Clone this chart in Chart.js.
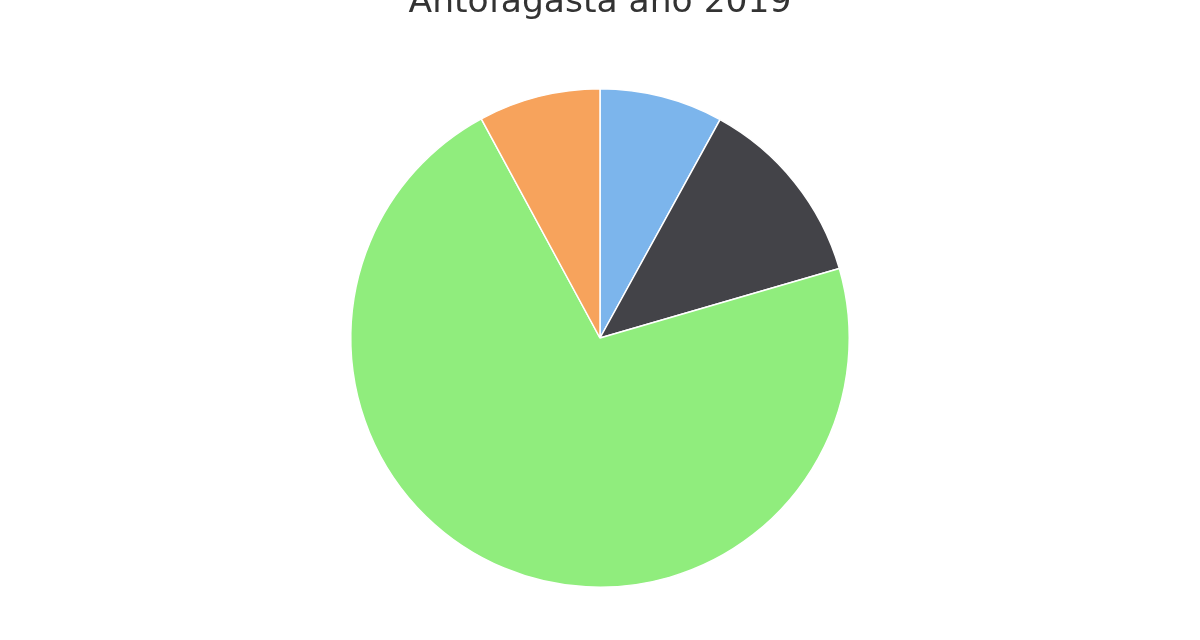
<!DOCTYPE html>
<html>
<head>
<meta charset="utf-8">
<script src="https://cdn.jsdelivr.net/npm/chart.js@4"></script>
<style>
  html, body { margin: 0; padding: 0; background: #fff; }
  #wrap { width: 1200px; height: 640px; }
</style>
</head>
<body>
<div id="wrap"><canvas id="pieChart"></canvas></div>
<script>
// ===== Data =====
const categories = ["Categoría 1", "Categoría 2", "Categoría 3", "Categoría 4"];
const values = [8.0, 12.5, 71.6, 7.9];
const colors = ["#7cb5ec", "#434348", "#90ed7d", "#f7a35c"];

// ===== Chart =====
const ctx = document.getElementById("pieChart").getContext("2d");
new Chart(ctx, {
  type: "pie",
  data: {
    labels: categories,
    datasets: [{
      data: values,
      backgroundColor: colors,
      borderColor: "#ffffff",
      borderWidth: 1.5
    }]
  },
  options: {
    responsive: true,
    maintainAspectRatio: false,
    animation: false,
    layout: { padding: { bottom: 52 } },
    plugins: {
      legend: { display: false },
      tooltip: { enabled: false },
      title: {
        display: true,
        text: "Antofagasta año 2019",
        color: "#333333",
        font: { family: "DejaVu Sans", size: 34.5, weight: "normal" },
        padding: { top: -17.4, bottom: 64 }
      }
    }
  }
});
</script>
</body>
</html>
